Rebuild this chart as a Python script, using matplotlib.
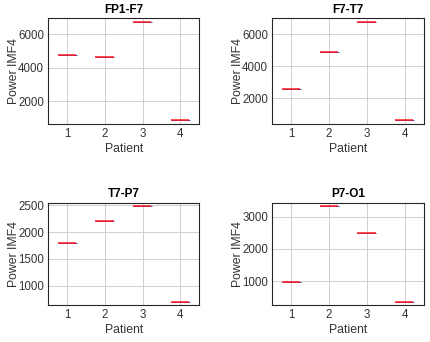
import numpy as np
import matplotlib
matplotlib.use('Agg')
from matplotlib import pyplot as plt

plt.rcParams['font.family'] = ['Liberation Sans', 'DejaVu Sans']

patients = [1, 2, 3, 4]
channels = ['FP1-F7', 'F7-T7', 'T7-P7', 'P7-O1']
fp1_f7 = [4740, 4620, 6720, 840]
f7_t7 = [2600, 4920, 6750, 625]
t7_p7 = [1804, 2212, 2481, 705]
p7_o1 = [969, 3309, 2495, 381]
series = [fp1_f7, f7_t7, t7_p7, p7_o1]
yticks = [[2000, 4000, 6000], [2000, 4000, 6000],
          [1000, 1500, 2000, 2500], [1000, 2000, 3000]]

W, H = 430, 342
# axes boxes in pixels: left, top, right, bottom
boxes = [(48.3, 18.3, 199.3, 124.3), (272.3, 18.3, 423.7, 124.3),
         (48.3, 202.7, 199.3, 305.3), (272.3, 202.7, 423.7, 305.3)]

fig = plt.figure(figsize=(W / 100, H / 100), dpi=100)
txt = '#333333'
for name, vals, ticks, (l, t, r, b) in zip(channels, series, yticks, boxes):
    ax = fig.add_axes([l / W, 1 - b / H, (r - l) / W, (b - t) / H])
    for p, v in zip(patients, vals):
        ax.hlines(v, p - 0.25, p + 0.25, color='#2020c0', lw=0.6, zorder=3)
        ax.hlines(v, p - 0.25, p + 0.23, color='#ff1a1a', lw=1.1, zorder=4)
    lo, hi = min(vals), max(vals)
    pad = 0.04 * (hi - lo)
    ax.set_ylim(lo - pad, hi + pad)
    ax.set_xlim(0.5, 4.5)
    ax.set_xticks(patients)
    ax.set_yticks(ticks)
    ax.grid(True, color='#c8c8c8', lw=0.6)
    ax.set_axisbelow(True)
    ax.tick_params(length=0, labelsize=8.3, colors=txt, pad=3)
    for s in ax.spines.values():
        s.set_color('#262626')
        s.set_linewidth(0.8)
    ax.set_title(name, fontsize=8.5, fontweight='bold', pad=4)
    ax.set_xlabel('Patient', fontsize=8.8, color=txt, labelpad=2)
    ax.set_ylabel('Power IMF4', fontsize=8.8, color=txt, labelpad=-1)

fig.savefig('out.png', dpi=100)
